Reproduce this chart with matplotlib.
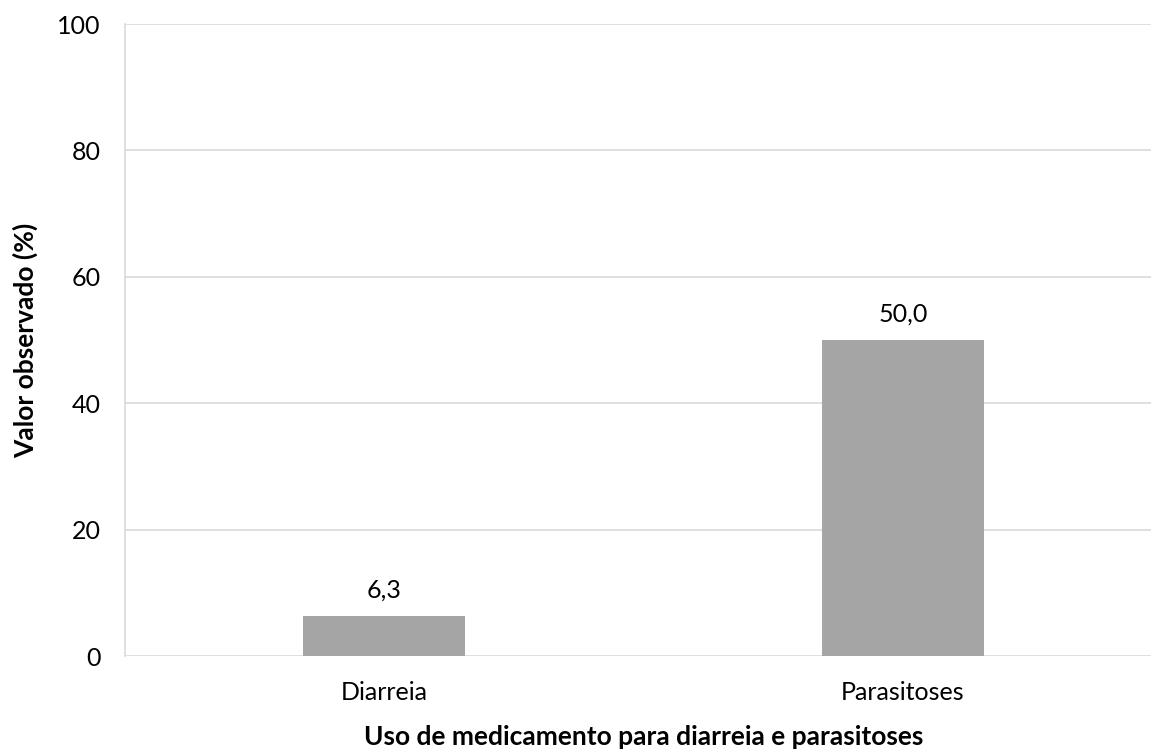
import matplotlib
matplotlib.use("Agg")
import matplotlib.pyplot as plt

categories = ["Diarreia", "Parasitoses"]
values = [6.3, 50.0]
labels = ["6,3", "50,0"]
yticks = [0, 20, 40, 60, 80, 100]

plt.rcParams['font.family'] = ['Lato', 'DejaVu Sans']

fig = plt.figure(figsize=(11.51, 7.51), dpi=100)
ax = fig.add_axes([124.5/1151, 1-656/751, 1038/1151, 632/751])

x = list(range(len(categories)))
bars = ax.bar(x, values, width=0.312, color="#A5A5A5", zorder=3)
for b, lab in zip(bars, labels):
    ax.annotate(lab, (b.get_x()+b.get_width()/2, b.get_height()),
                xytext=(0, 13.5), textcoords="offset points",
                ha="center", va="baseline", fontsize=18, color="#000000")

ax.set_xlim(-0.5, 1.5)
ax.set_ylim(0, 100)
ax.set_yticks(yticks)
ax.set_xticks(x)
ax.set_xticklabels(categories)
ax.tick_params(axis="both", length=0, labelsize=18, colors="#000000")
ax.tick_params(axis="y", pad=17)
ax.tick_params(axis="x", pad=18)
ax.yaxis.grid(True, color="#D9D9D9", linewidth=1.2, zorder=0)
for s in ["top", "right", "bottom"]:
    ax.spines[s].set_visible(False)
ax.spines["left"].set_color("#D9D9D9")
ax.spines["left"].set_linewidth(1.2)

ax.set_xlabel("Uso de medicamento para diarreia e parasitoses", fontsize=19, fontweight="bold")
ax.set_ylabel("Valor observado (%)", fontsize=19, fontweight="bold")
ax.xaxis.label.set_va("baseline")
ax.xaxis.set_label_coords(0.5, -(745-656)/632)
ax.yaxis.label.set_va("center")
ax.yaxis.set_label_coords(-(124.5-25)/1038, 0.5)

fig.savefig("out.png", dpi=100)
